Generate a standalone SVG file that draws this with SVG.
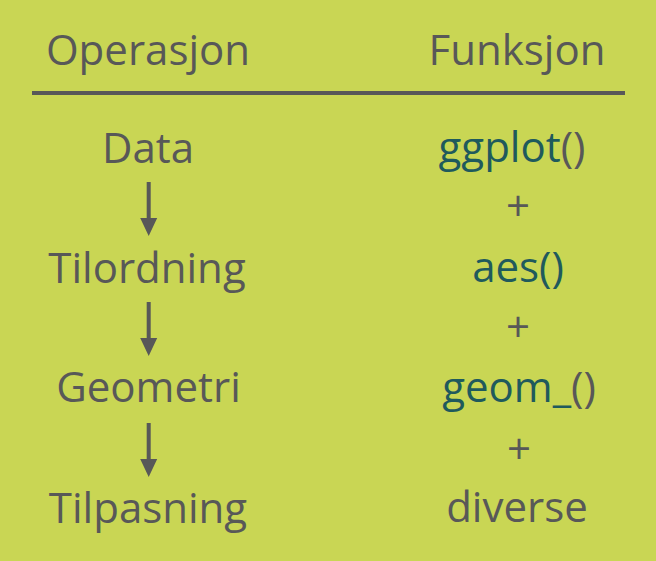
<svg xmlns="http://www.w3.org/2000/svg" width="656" height="561" viewBox="0 0 656 561">
<defs>
<style>
text{font-family:"Open Sans","Liberation Sans",sans-serif;font-size:42px;text-anchor:middle;fill:#585858}
.t{fill:#1f5a5c}
.g{fill:#585858}
.arr{fill:#585858}
</style>
<g id="arrowShape"><path d="M-2 0 H2 V36 H8.5 L0 54 L-8.5 36 H-2 Z"/></g>
</defs>
<rect width="656" height="561" fill="#c9d654"/>
<g id="header">
<text x="148" y="65">Operasjon</text>
<text x="517" y="65">Funksjon</text>
<rect x="32" y="91" width="593" height="4" fill="#585858"/>
</g>
<g id="node-data"><text x="148" y="163">Data</text></g>
<g id="node-tilordning"><text x="147" y="283">Tilordning</text></g>
<g id="node-geometri"><text x="148.5" y="402">Geometri</text></g>
<g id="node-tilpasning"><text x="148" y="523">Tilpasning</text></g>
<g id="node-ggplot"><text x="512" y="162"><tspan class="t">ggplot</tspan><tspan class="g">()</tspan></text></g>
<g id="node-aes"><text x="518" y="282" class="t">aes()</text></g>
<g id="node-geom"><text x="519" y="402"><tspan class="t">geom_</tspan><tspan class="g">()</tspan></text></g>
<g id="node-diverse"><text x="517" y="522">diverse</text></g>
<g id="plus">
<text x="518" y="221">+</text>
<text x="518" y="342">+</text>
<text x="519" y="464">+</text>
</g>
<g id="connectors" class="arr">
<use href="#arrowShape" transform="translate(148.7 182)"/>
<use href="#arrowShape" transform="translate(148.7 302)"/>
<use href="#arrowShape" transform="translate(148.7 423)"/>
</g>
</svg>
